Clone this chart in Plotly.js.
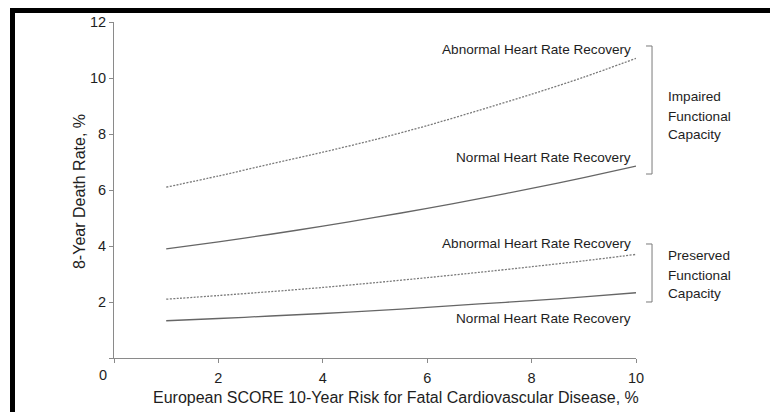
<!DOCTYPE html>
<html>
<head>
<meta charset="utf-8">
<script src="https://cdn.plot.ly/plotly-3.0.1.min.js"></script>
<style>
  html, body { margin: 0; padding: 0; background: #fff; }
  #chart { width: 770px; height: 412px; position: absolute; left: 0; top: 0; }
  #frame { position: absolute; left: 10px; top: 8px; width: 760px; height: 404px;
           border-top: 5px solid #000; border-left: 5px solid #000; box-sizing: border-box;
           pointer-events: none; }
</style>
</head>
<body>
<div id="chart"></div>
<div id="frame"></div>
<script>
// SCORE risk, %
const riskX = [1, 2, 3, 4, 5, 6, 7, 8, 9, 10];
// 8-year death rate, %
const impairedAbnormal  = [6.1, 6.5, 6.93, 7.35, 7.8, 8.3, 8.85, 9.42, 10.03, 10.7];
const impairedNormal    = [3.9, 4.15, 4.42, 4.71, 5.02, 5.34, 5.69, 6.06, 6.44, 6.85];
const preservedAbnormal = [2.1, 2.23, 2.37, 2.52, 2.69, 2.87, 3.06, 3.26, 3.47, 3.7];
const preservedNormal   = [1.33, 1.41, 1.5, 1.59, 1.69, 1.81, 1.93, 2.05, 2.18, 2.33];

const xTicks = [0, 2, 4, 6, 8, 10];
const xTickText = ['', '2', '4', '6', '8', '10'];
const yTicks = [0, 2, 4, 6, 8, 10, 12];
const yTickText = ['', '2', '4', '6', '8', '10', '12'];

const FONT = 'Liberation Sans, Arial, Helvetica, sans-serif';
const TXT = '#1e1e1e';
const AX = '#8a8a8a';

function line(y, dash, color) {
  return { x: riskX, y: y, type: 'scatter', mode: 'lines', hoverinfo: 'skip',
           line: { color: color, width: 1.3, dash: dash, shape: 'spline', smoothing: 0.8 } };
}

const DOTS = '2px,1.4px';
const data = [
  line(impairedAbnormal, DOTS, '#7a7a7a'),
  line(impairedNormal, 'solid', '#666'),
  line(preservedAbnormal, DOTS, '#7a7a7a'),
  line(preservedNormal, 'solid', '#666')
];

function ann(text, x, y, xanchor, size, extra) {
  return Object.assign({ text: text, xref: 'paper', yref: 'paper', x: x, y: y,
    xanchor: xanchor, yanchor: 'middle', showarrow: false,
    font: { family: FONT, size: size, color: TXT } }, extra || {});
}

const annotations = [
  ann('Abnormal Heart Rate Recovery', 0.9937, 0.9196, 'right', 13.6),
  ann('Normal Heart Rate Recovery', 0.9937, 0.5982, 'right', 13.6),
  ann('Abnormal Heart Rate Recovery', 0.9937, 0.3393, 'right', 13.6),
  ann('Normal Heart Rate Recovery', 0.9937, 0.119, 'right', 13.6),
  ann('Impaired', 1.0575, 0.7768, 'left', 13.6),
  ann('Functional', 1.0575, 0.7202, 'left', 13.6),
  ann('Capacity', 1.0575, 0.6637, 'left', 13.6),
  ann('Preserved', 1.0575, 0.3036, 'left', 13.6),
  ann('Functional', 1.0575, 0.247, 'left', 13.6),
  ann('Capacity', 1.0575, 0.1905, 'left', 13.6),
  ann('0', -0.0211, -0.0506, 'center', 14.5),
  ann('European SCORE 10-Year Risk for Fatal Cardiovascular Disease, %', 0.5402, -0.119, 'center', 16),
  ann('8-Year Death Rate, %', -0.067, 0.494, 'center', 16, { textangle: -90 })
];

function seg(x0, y0, x1, y1) {
  return { type: 'line', xref: 'paper', yref: 'paper', x0: x0, y0: y0, x1: x1, y1: y1,
           line: { color: '#7a7a7a', width: 1 } };
}
const shapes = [
  seg(1.0307, 0.9286, 1.0307, 0.5476),
  seg(1.0192, 0.9286, 1.0307, 0.9286),
  seg(1.0192, 0.5476, 1.0307, 0.5476),
  seg(1.0307, 0.3393, 1.0307, 0.1667),
  seg(1.0192, 0.3393, 1.0307, 0.3393),
  seg(1.0192, 0.1667, 1.0307, 0.1667)
];

const layout = {
  width: 770, height: 412,
  margin: { l: 114, r: 134, t: 22, b: 54, pad: 0 },
  paper_bgcolor: '#fff', plot_bgcolor: '#fff',
  showlegend: false,
  font: { family: FONT, color: TXT },
  xaxis: {
    range: [0, 10], tickvals: xTicks, ticktext: xTickText,
    showgrid: false, zeroline: false, showline: true, linecolor: AX, linewidth: 1,
    ticks: 'outside', ticklen: 4, tickcolor: AX, tickwidth: 1,
    tickfont: { family: FONT, size: 14.5, color: TXT }, ticklabelstandoff: 3
  },
  yaxis: {
    range: [0, 12], tickvals: yTicks, ticktext: yTickText,
    showgrid: false, zeroline: false, showline: true, linecolor: AX, linewidth: 1,
    ticks: 'outside', ticklen: 4, tickcolor: AX, tickwidth: 1,
    tickfont: { family: FONT, size: 14.5, color: TXT }
  },
  annotations: annotations,
  shapes: shapes
};

Plotly.newPlot('chart', data, layout, { displayModeBar: false, staticPlot: true });
</script>
</body>
</html>
